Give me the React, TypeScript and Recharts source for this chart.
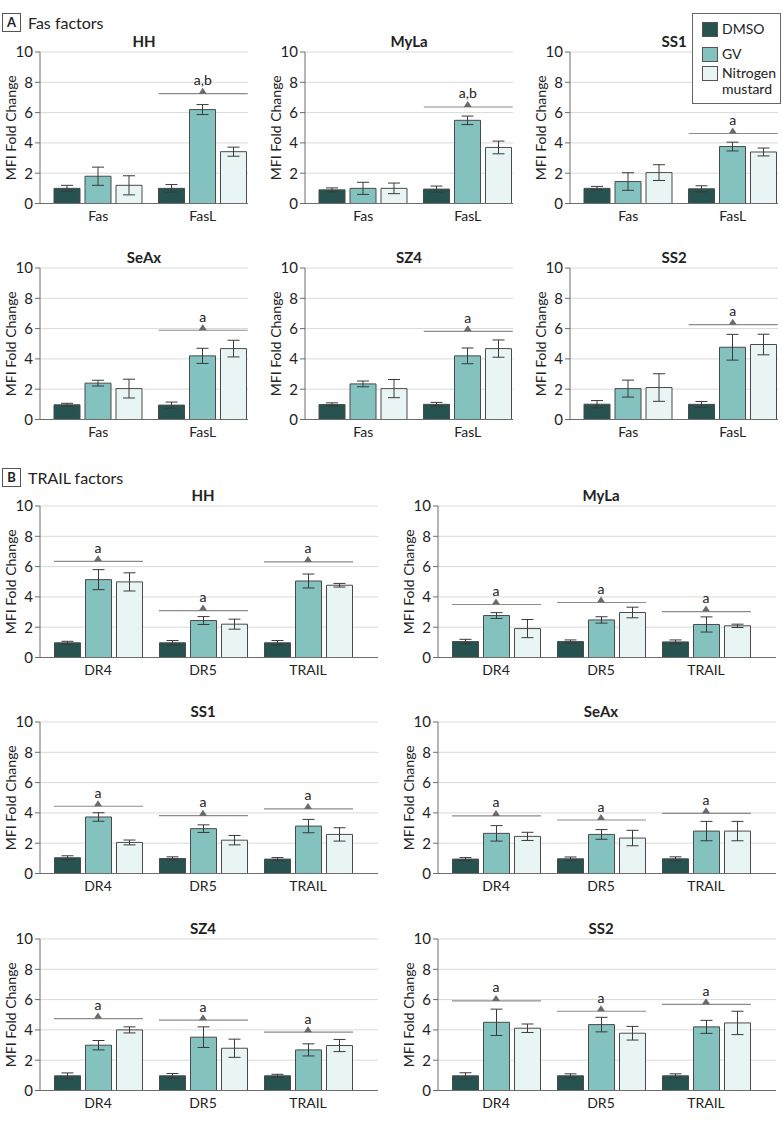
import React from 'react';
import { ComposedChart, Bar, ErrorBar, Scatter, XAxis, YAxis, CartesianGrid, Label } from 'recharts';

const FONT = 'Lato, "Noto Sans", sans-serif';

const DMSO_COLOR = '#265250';
const GV_COLOR = '#83c2bf';
const NM_COLOR = '#e9f4f5';
const BAR_STROKE = '#4a4a4a';

const fasCategories = ['Fas', 'FasL'];
const trailCategories = ['DR4', 'DR5', 'TRAIL'];

const fasCellLines = ['HH', 'MyLa', 'SS1', 'SeAx', 'SZ4', 'SS2'];
const trailCellLines = ['HH', 'MyLa', 'SS1', 'SeAx', 'SZ4', 'SS2'];

// Fas factors — one row per cell line, one value per category
const fasDmso = [[1.0, 1.0], [0.9, 0.95], [1.0, 0.97], [0.97, 0.95], [0.99, 1.0], [1.01, 1.0]];
const fasDmsoErr = [[0.2, 0.25], [0.13, 0.2], [0.13, 0.2], [0.1, 0.2], [0.11, 0.13], [0.24, 0.19]];
const fasGv = [[1.8, 6.2], [1.0, 5.49], [1.45, 3.76], [2.4, 4.2], [2.35, 4.2], [2.04, 4.77]];
const fasGvErr = [[0.6, 0.33], [0.4, 0.28], [0.58, 0.29], [0.19, 0.5], [0.19, 0.52], [0.56, 0.85]];
const fasNm = [[1.2, 3.42], [1.0, 3.7], [2.04, 3.4], [2.04, 4.68], [2.04, 4.68], [2.11, 4.95]];
const fasNmErr = [[0.63, 0.3], [0.35, 0.42], [0.52, 0.26], [0.62, 0.55], [0.6, 0.57], [0.91, 0.68]];
const fasSig = [[null, 7.25], [null, 6.37], [null, 4.62], [null, 5.89], [null, 5.82], [null, 6.26]];
const fasSigLabel = ['a,b', 'a,b', 'a', 'a', 'a', 'a'];

// TRAIL factors
const trailDmso = [
  [0.97, 0.97, 0.97],
  [1.05, 1.05, 1.03],
  [1.04, 0.99, 0.95],
  [0.95, 0.97, 0.97],
  [0.97, 0.97, 0.97],
  [0.97, 0.97, 0.97],
];
const trailDmsoErr = [
  [0.1, 0.15, 0.15],
  [0.15, 0.11, 0.13],
  [0.13, 0.11, 0.1],
  [0.1, 0.12, 0.13],
  [0.19, 0.15, 0.1],
  [0.2, 0.13, 0.13],
];
const trailGv = [
  [5.14, 2.44, 5.05],
  [2.77, 2.48, 2.18],
  [3.73, 2.96, 3.13],
  [2.65, 2.58, 2.8],
  [2.99, 3.52, 2.68],
  [4.5, 4.35, 4.2],
];
const trailGvErr = [
  [0.66, 0.26, 0.46],
  [0.19, 0.21, 0.5],
  [0.28, 0.25, 0.44],
  [0.51, 0.32, 0.64],
  [0.31, 0.68, 0.4],
  [0.87, 0.48, 0.43],
];
const trailNm = [
  [4.99, 2.2, 4.77],
  [1.91, 2.97, 2.09],
  [2.05, 2.2, 2.58],
  [2.45, 2.34, 2.8],
  [4.0, 2.79, 2.97],
  [4.11, 3.78, 4.46],
];
const trailNmErr = [
  [0.6, 0.33, 0.12],
  [0.6, 0.35, 0.11],
  [0.16, 0.31, 0.44],
  [0.27, 0.51, 0.64],
  [0.2, 0.6, 0.4],
  [0.28, 0.45, 0.77],
];
const trailSig = [
  [6.35, 3.1, 6.31],
  [3.5, 3.63, 3.03],
  [4.44, 3.82, 4.26],
  [3.8, 3.53, 3.97],
  [4.75, 4.64, 3.85],
  [5.91, 5.23, 5.69],
];

const yTicks = [0, 2, 4, 6, 8, 10];

// layout (left of y-axis column, pixel y of the "10" gridline)
const fasLayout = [
  { x: 0, y10: 52 }, { x: 265, y10: 52 }, { x: 530, y10: 52 },
  { x: 0, y10: 268 }, { x: 265, y10: 268 }, { x: 530, y10: 268 },
];
const trailLayout = [
  { x: 0, y10: 506 }, { x: 398, y10: 506 },
  { x: 0, y10: 722 }, { x: 398, y10: 722 },
  { x: 0, y10: 939 }, { x: 398, y10: 939 },
];

const PLOT_H = 151.5;
const AXIS_W = 40;
const TOP = 22;

const SigMark = (props: any) => {
  const { cx, cy, payload } = props;
  if (payload == null || payload.sig == null || cy == null || isNaN(cy)) return <g />;
  return (
    <g>
      <line x1={cx - 44} x2={cx + 45} y1={cy} y2={cy} stroke="#8c8c8c" strokeWidth={1.2} />
      <polygon points={`${cx - 4},${cy} ${cx + 4},${cy} ${cx},${cy - 6}`} fill="#6a6a6a" />
      <text x={cx} y={cy - 14} textAnchor="middle" dominantBaseline="central" fontSize={14} fill="#222">
        {payload.sigLabel}
      </text>
    </g>
  );
};

const YLabel = (props: any) => {
  const vb = props.viewBox || { x: 0, y: 0, width: AXIS_W, height: PLOT_H };
  const x = vb.x + vb.width - 30;
  const y = vb.y + vb.height / 2;
  return (
    <text x={x} y={y} transform={`rotate(-90, ${x}, ${y})`} textAnchor="middle" dominantBaseline="central" fontSize={14} fill="#222">
      MFI Fold Change
    </text>
  );
};

type PanelProps = {
  title: string;
  categories: string[];
  dmso: number[];
  dmsoErr: number[];
  gv: number[];
  gvErr: number[];
  nm: number[];
  nmErr: number[];
  sig: (number | null)[];
  sigLabel: string;
  x: number;
  y10: number;
  plotWidth: number;
  padL: number;
  padR: number;
  titleCenter: number;
};

const Panel = (p: PanelProps) => {
  const rows = p.categories.map((name, i) => ({
    name,
    dmso: p.dmso[i],
    dmsoErr: p.dmsoErr[i],
    gv: p.gv[i],
    gvErr: p.gvErr[i],
    nm: p.nm[i],
    nmErr: p.nmErr[i],
    sig: p.sig[i],
    sigLabel: p.sigLabel,
  }));
  return (
    <>
      <div
        style={{
          position: 'absolute',
          left: p.x + p.titleCenter - 50,
          top: p.y10 - 20,
          width: 100,
          textAlign: 'center',
          fontWeight: 'bold',
          fontSize: 15,
          lineHeight: '18px',
          color: '#222',
        }}
      >
        {p.title}
      </div>
      <div style={{ position: 'absolute', left: p.x, top: p.y10 - TOP }}>
        <ComposedChart
          width={AXIS_W + p.plotWidth}
          height={TOP + PLOT_H + 30}
          data={rows}
          margin={{ top: TOP, right: 0, bottom: 0, left: 0 }}
          barSize={26}
          barGap={5}
        >
          <CartesianGrid vertical={false} stroke="#d9d9d9" />
          <XAxis
            dataKey="name"
            tickLine={false}
            axisLine={{ stroke: '#6d6d6d' }}
            height={30}
            interval={0}
            padding={{ left: p.padL, right: p.padR }}
            tick={{ fontSize: 14, fill: '#222' }}
          />
          <YAxis
            domain={[0, 10]}
            ticks={yTicks}
            width={AXIS_W}
            tickSize={5}
            tickMargin={2}
            axisLine={{ stroke: '#6d6d6d' }}
            tickLine={{ stroke: '#6d6d6d' }}
            tick={{ fontSize: 15, fill: '#222' }}
            allowDataOverflow
          >
            <Label content={<YLabel />} />
          </YAxis>
          <Bar dataKey="dmso" fill={DMSO_COLOR} stroke={BAR_STROKE} strokeWidth={1} isAnimationActive={false}>
            <ErrorBar dataKey="dmsoErr" width={6} stroke="#3a3a3a" strokeWidth={1} />
          </Bar>
          <Bar dataKey="gv" fill={GV_COLOR} stroke={BAR_STROKE} strokeWidth={1} isAnimationActive={false}>
            <ErrorBar dataKey="gvErr" width={6} stroke="#3a3a3a" strokeWidth={1} />
          </Bar>
          <Bar dataKey="nm" fill={NM_COLOR} stroke={BAR_STROKE} strokeWidth={1} isAnimationActive={false}>
            <ErrorBar dataKey="nmErr" width={6} stroke="#3a3a3a" strokeWidth={1} />
          </Bar>
          <Scatter dataKey="sig" shape={<SigMark />} isAnimationActive={false} />
        </ComposedChart>
      </div>
    </>
  );
};

const SectionHeader = ({ letter, text, top }: { letter: string; text: string; top: number }) => (
  <>
    <div
      style={{
        position: 'absolute',
        left: 2,
        top,
        width: 19,
        height: 19,
        boxSizing: 'border-box',
        border: '1px solid #555',
        textAlign: 'center',
        lineHeight: '17px',
        fontWeight: 'bold',
        fontSize: 13,
        color: '#222',
      }}
    >
      {letter}
    </div>
    <div style={{ position: 'absolute', left: 28, top: top, fontSize: 16, lineHeight: '19px', color: '#222' }}>{text}</div>
  </>
);

const LegendBox = () => {
  const items = [
    { color: DMSO_COLOR, lines: ['DMSO'], top: 8 },
    { color: GV_COLOR, lines: ['GV'], top: 33 },
    { color: NM_COLOR, lines: ['Nitrogen', 'mustard'], top: 52 },
  ];
  return (
    <div
      style={{
        position: 'absolute',
        left: 692,
        top: 13,
        width: 89,
        height: 91,
        boxSizing: 'border-box',
        border: '1px solid #666',
        background: '#fff',
        fontSize: 14,
        color: '#222',
      }}
    >
      {items.map((it) => (
        <React.Fragment key={it.lines[0]}>
          <div
            style={{
              position: 'absolute',
              left: 9,
              top: it.top,
              width: 16,
              height: 15,
              boxSizing: 'border-box',
              border: '1px solid #555',
              background: it.color,
            }}
          />
          <div style={{ position: 'absolute', left: 29, top: it.top - 1, lineHeight: '16px' }}>
            {it.lines.map((l) => (
              <div key={l}>{l}</div>
            ))}
          </div>
        </React.Fragment>
      ))}
    </div>
  );
};

export default function App() {
  return (
    <div
      style={{
        position: 'absolute',
        left: 0,
        top: 0,
        width: 783,
        height: 1123,
        background: '#fff',
        fontFamily: FONT,
        overflow: 'hidden',
      }}
    >
      <SectionHeader letter="A" text="Fas factors" top={13} />
      {fasCellLines.map((name, i) => (
        <Panel
          key={'fas' + name}
          title={name}
          categories={fasCategories}
          dmso={fasDmso[i]}
          dmsoErr={fasDmsoErr[i]}
          gv={fasGv[i]}
          gvErr={fasGvErr[i]}
          nm={fasNm[i]}
          nmErr={fasNmErr[i]}
          sig={fasSig[i]}
          sigLabel={fasSigLabel[i]}
          x={fasLayout[i].x}
          y10={fasLayout[i].y10}
          plotWidth={208}
          padL={6}
          padR={-7}
          titleCenter={AXIS_W + 104}
        />
      ))}
      <LegendBox />
      <SectionHeader letter="B" text="TRAIL factors" top={468} />
      {trailCellLines.map((name, i) => (
        <Panel
          key={'trail' + name}
          title={name}
          categories={trailCategories}
          dmso={trailDmso[i]}
          dmsoErr={trailDmsoErr[i]}
          gv={trailGv[i]}
          gvErr={trailGvErr[i]}
          nm={trailNm[i]}
          nmErr={trailNmErr[i]}
          sig={trailSig[i]}
          sigLabel="a"
          x={trailLayout[i].x}
          y10={trailLayout[i].y10}
          plotWidth={338}
          padL={5.5}
          padR={17.5}
          titleCenter={AXIS_W + 163}
        />
      ))}
    </div>
  );
}
